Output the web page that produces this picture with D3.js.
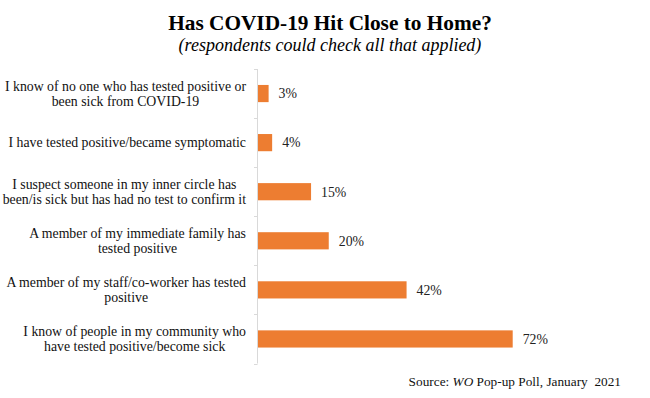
<!DOCTYPE html>
<html>
<head>
<meta charset="utf-8">
<script src="https://cdn.jsdelivr.net/npm/d3@7"></script>
<style>
  body { margin: 0; background: #fff; }
</style>
</head>
<body>
<div id="chart"></div>
<script>
// data
const categories = [
  ["I know of no one who has tested positive or", "been sick from COVID-19"],
  ["I have tested positive/became symptomatic"],
  ["I suspect someone in my inner circle has", "been/is sick but has had no test to confirm it"],
  ["A member of my immediate family has", "tested positive"],
  ["A member of my staff/co-worker has tested", "positive"],
  ["I know of people in my community who", "have tested positive/become sick"]
];
const values = [3, 4, 15, 20, 42, 72];
const valueLabels = ["3%", "4%", "15%", "20%", "42%", "72%"];

const width = 650, height = 398;
const margin = { top: 69, left: 258, bottom: 34.5 };
const serif = "'Liberation Serif', 'Times New Roman', Times, 'DejaVu Serif', serif";
const labelSize = 13.8;

const svg = d3.select("#chart").append("svg")
    .attr("width", width)
    .attr("height", height)
    .style("display", "block")
    .attr("font-family", serif);

// title + subtitle
svg.append("text")
    .attr("x", 330).attr("y", 30)
    .attr("text-anchor", "middle")
    .attr("font-family", serif)
    .attr("font-size", 21.3)
    .attr("font-weight", "bold")
    .attr("fill", "#000")
    .text("Has COVID-19 Hit Close to Home?");

svg.append("text")
    .attr("x", 330).attr("y", 51)
    .attr("text-anchor", "middle")
    .attr("font-family", serif)
    .attr("font-size", 18)
    .attr("font-style", "italic")
    .attr("fill", "#000")
    .text("(respondents could check all that applied)");

const idx = d3.range(values.length);

const y = d3.scaleBand()
    .domain(idx)
    .range([margin.top, height - margin.bottom])
    .paddingInner(0.65)
    .paddingOuter(0.325);

const x = d3.scaleLinear()
    .domain([0, 80])
    .range([margin.left, margin.left + 283]);

// axis line with ticks at the band edges
const step = y.step();
const edges = d3.range(values.length + 1).map(i => margin.top + i * step);
const axisG = svg.append("g").attr("stroke", "#d9d9d9").attr("stroke-width", 1);
axisG.append("line")
    .attr("x1", margin.left - 0.5).attr("x2", margin.left - 0.5)
    .attr("y1", edges[0]).attr("y2", edges[edges.length - 1]);
axisG.selectAll(".tick")
    .data(edges)
    .join("line")
    .attr("x1", margin.left - 4).attr("x2", margin.left - 0.5)
    .attr("y1", d => Math.round(d) + 0.5).attr("y2", d => Math.round(d) + 0.5);

// bars
svg.selectAll(".bar")
    .data(idx)
    .join("rect")
    .attr("class", "bar")
    .attr("x", x(0))
    .attr("y", i => y(i))
    .attr("width", i => x(values[i]) - x(0))
    .attr("height", y.bandwidth())
    .attr("fill", "#ed7d31");

// value labels
svg.selectAll(".val")
    .data(idx)
    .join("text")
    .attr("class", "val")
    .attr("x", i => x(values[i]) + 10)
    .attr("y", i => y(i) + y.bandwidth() / 2)
    .attr("dy", "0.35em")
    .attr("font-family", serif)
    .attr("font-size", labelSize)
    .attr("fill", "#222")
    .text(i => valueLabels[i]);

// category labels: lines centred on each other, block right-aligned
const lineH = 15.3;
svg.selectAll(".cat")
    .data(idx)
    .join("g")
    .attr("class", "cat")
    .each(function(i) {
        const g = d3.select(this);
        const lines = categories[i];
        const cy = y(i) + y.bandwidth() / 2;
        const texts = lines.map((t, k) => g.append("text")
            .attr("font-family", serif)
            .attr("font-size", labelSize)
            .attr("fill", "#111")
            .attr("text-anchor", "middle")
            .attr("y", cy + (k - (lines.length - 1) / 2) * lineH)
            .attr("dy", "0.35em")
            .text(t));
        const w = d3.max(texts, t => t.node().getComputedTextLength());
        const cx = 246 - w / 2;
        texts.forEach(t => t.attr("x", cx));
    });

// source note
const src = svg.append("text")
    .attr("x", 621).attr("y", 386)
    .attr("text-anchor", "end")
    .attr("font-family", serif)
    .attr("font-size", 13.3)
    .attr("fill", "#111")
    .style("white-space", "pre");
src.append("tspan").text("Source: ");
src.append("tspan").attr("font-style", "italic").text("WO");
src.append("tspan").text(" Pop-up Poll, January  2021");
</script>
</body>
</html>
